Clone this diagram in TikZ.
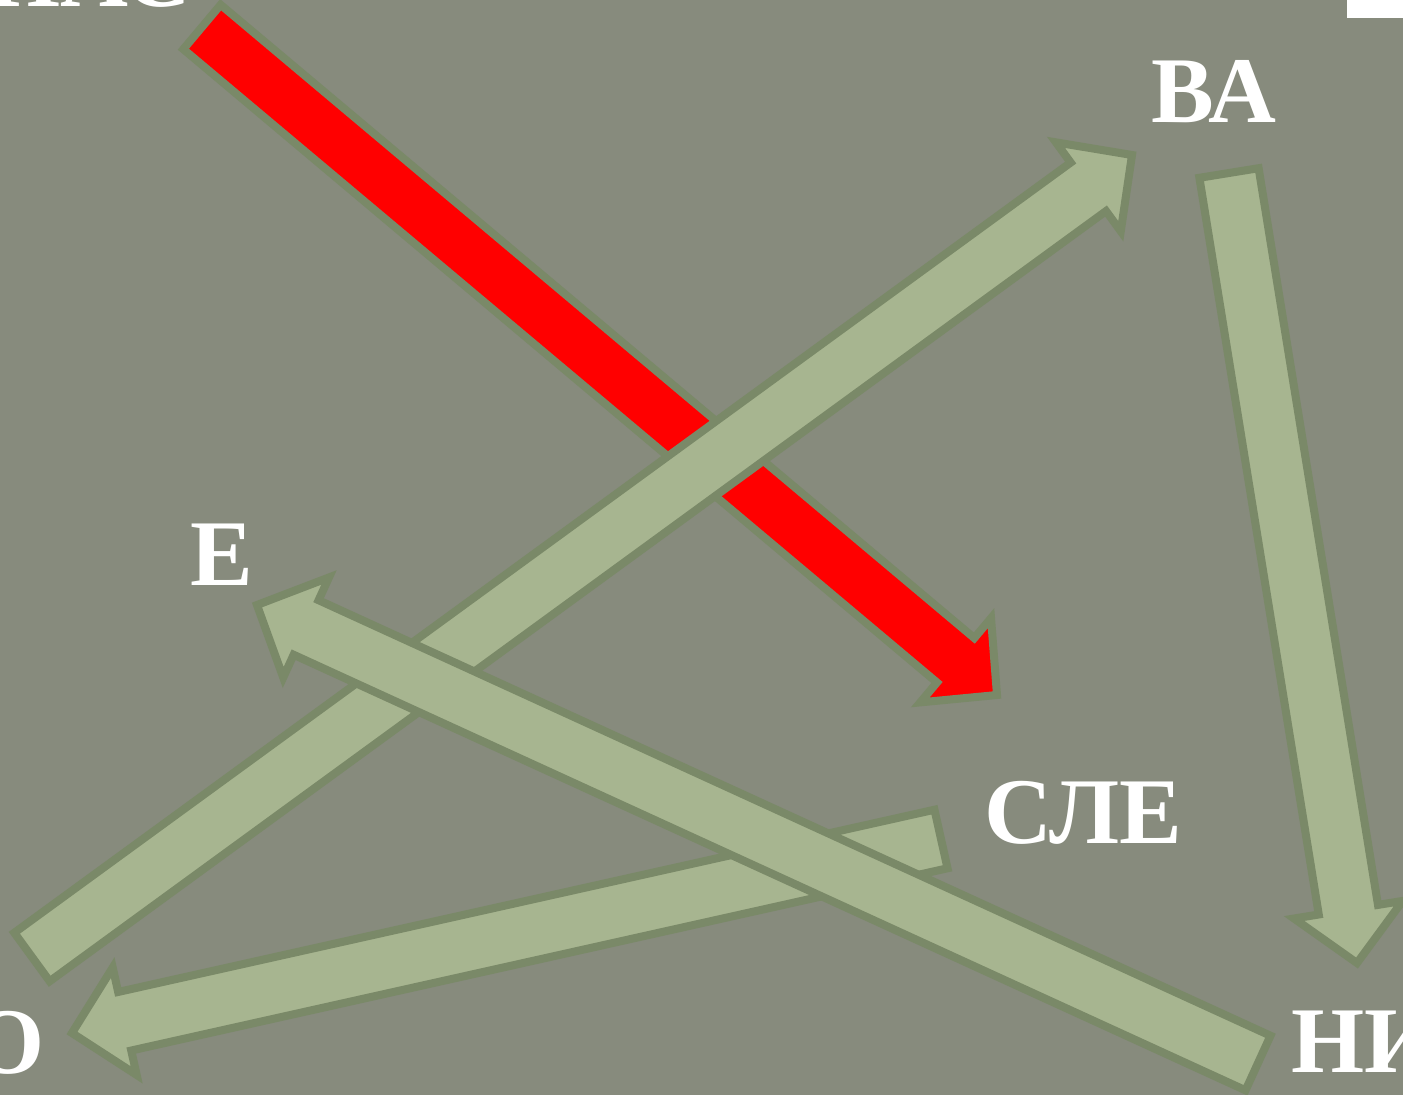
\documentclass[tikz,border=0pt]{standalone}
\usepackage{fontspec}
\setmainfont{Liberation Serif}
\usetikzlibrary{calc}
\definecolor{bgcol}{HTML}{878B7D}
\definecolor{arrowfill}{HTML}{A7B590}
\definecolor{arrowline}{HTML}{7A8968}
\tikzset{
  lbl/.style={text=white,font=\fontsize{94}{94}\selectfont\bfseries,inner sep=0pt},
  fatgreen/.style={fill=arrowfill,draw=arrowline,line width=8pt,line join=miter},
  fatred/.style={fill=red,draw=arrowline,line width=8pt,line join=miter},
}
\newcommand\fatarrow[6]{%
  \coordinate (#2#3h) at ($(#3)!#6!(#2)$);
  \draw[#1] ($(#2)!#4!90:(#3)$) -- ($(#2#3h)!#4!90:(#3)$) -- ($(#2#3h)!#5!90:(#3)$)
    -- (#3) -- ($(#2#3h)!#5!-90:(#3)$) -- ($(#2#3h)!#4!-90:(#3)$)
    -- ($(#2)!#4!-90:(#3)$) -- cycle;
}
\begin{document}
\begin{tikzpicture}[x=1pt,y=-1pt]
  \path[fill=bgcol] (0,0) rectangle (1403,1095);
  \useasboundingbox (0,0) rectangle (1403,1095);
  \fill[white] (1347,0) rectangle (1403,18);
  % labels
  \node[lbl,anchor=base east] (nas) at (192,6) {НАС};
  \node[lbl,anchor=base west] (va) at (1151,122) {ВА};
  \node[lbl,anchor=base west] (e) at (190,585) {Е};
  \node[lbl,anchor=base west] (sle) at (984,843) {СЛЕ};
  \node[lbl,anchor=base east] (o) at (45,1073) {О};
  \node[lbl,anchor=base west] (ni) at (1291,1072) {НИ};
  % arrow end points
  \coordinate (rs) at (202,27);
  \coordinate (re) at (997,695);
  \coordinate (bs) at (32,957);
  \coordinate (be) at (1132,155);
  \coordinate (cs) at (1229,173);
  \coordinate (ce) at (1357,963);
  \coordinate (ds) at (941,839);
  \coordinate (de) at (72,1033);
  \coordinate (es) at (1258,1063);
  \coordinate (ee) at (257,605);
  % arrows
  \fatarrow{fatred}{rs}{re}{29pt}{55pt}{54pt}
  \fatarrow{fatgreen}{bs}{be}{30pt}{55pt}{54pt}
  \fatarrow{fatgreen}{cs}{ce}{30pt}{55pt}{54pt}
  \fatarrow{fatgreen}{ds}{de}{30pt}{55pt}{54pt}
  \fatarrow{fatgreen}{es}{ee}{30pt}{55pt}{54pt}
\end{tikzpicture}
\end{document}
